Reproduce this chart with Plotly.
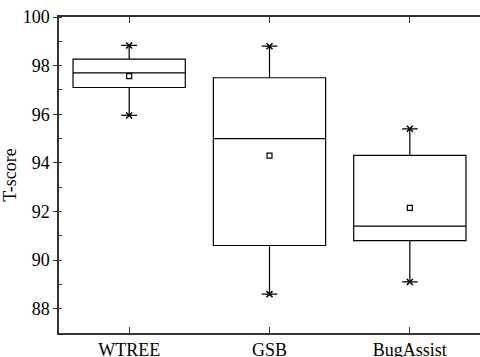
import plotly.graph_objects as go

categories = ["WTREE", "GSB", "BugAssist"]
q1 = [97.10, 90.60, 90.80]
median = [97.70, 95.00, 91.40]
q3 = [98.27, 97.50, 94.31]
lower = [95.95, 88.60, 89.10]
upper = [98.83, 98.80, 95.40]
mean = [97.57, 94.30, 92.15]

fig = go.Figure()
fig.add_trace(go.Box(
    x=categories, q1=q1, median=median, q3=q3,
    lowerfence=lower, upperfence=upper,
    boxpoints=False, width=0.8, whiskerwidth=0.14,
    fillcolor="rgba(0,0,0,0)", line=dict(color="black", width=1.2),
    showlegend=False, hoverinfo="skip",
))
fig.add_trace(go.Scatter(
    x=categories + categories, y=lower + upper, mode="markers",
    marker=dict(symbol="x-thin", size=6, line=dict(color="black", width=1.5)),
    showlegend=False, hoverinfo="skip",
))
fig.add_trace(go.Scatter(
    x=categories, y=mean, mode="markers",
    marker=dict(symbol="square-open", size=5, color="black", line=dict(width=1.2)),
    showlegend=False, hoverinfo="skip",
))

font = "Times New Roman, Liberation Serif, serif"
fig.update_layout(
    width=480, height=357,
    margin=dict(l=59, r=0, t=17, b=24, autoexpand=False),
    paper_bgcolor="white", plot_bgcolor="white",
    font=dict(family=font, color="black"),
)
fig.update_xaxes(
    range=[-0.5, 2.5], showline=True, linecolor="#333", linewidth=1.5,
    mirror="ticks", ticks="inside", ticklen=6, tickcolor="#333",
    tickfont=dict(size=18, family=font, color="black"), showgrid=False, zeroline=False,
    automargin=False,
)
fig.update_yaxes(
    range=[87, 100], dtick=2, tick0=0, showline=True, linecolor="#333", linewidth=1.5,
    ticks="outside", ticklen=4, tickcolor="#333",
    tickfont=dict(size=18, family=font, color="black"),
    minor=dict(ticks="inside", ticklen=3, dtick=1, tickcolor="#333"),
    showgrid=False, zeroline=False, automargin=False,
    title=dict(text="T-score", font=dict(size=18, family=font), standoff=6),
)
fig.write_html(
    "out.html",
    config={"displayModeBar": False},
    post_script="document.body.style.margin='0';document.body.style.padding='0';",
)
